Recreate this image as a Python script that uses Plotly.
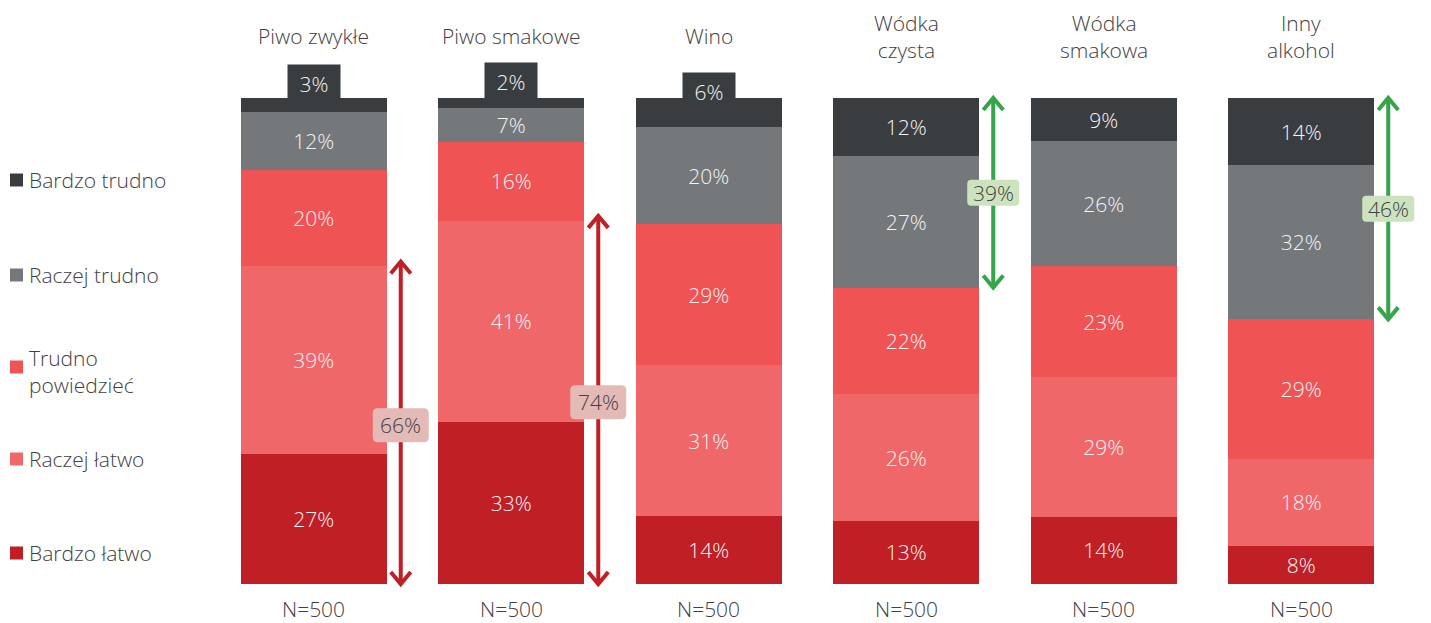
import plotly.graph_objects as go

# ---- data -------------------------------------------------------------
categories = ["Piwo zwykłe", "Piwo smakowe", "Wino", "Wódka<br>czysta", "Wódka<br>smakowa", "Inny<br>alkohol"]
sample_labels = ["N=500", "N=500", "N=500", "N=500", "N=500", "N=500"]

series_names = ["Bardzo łatwo", "Raczej łatwo", "Trudno<br>powiedzieć", "Raczej trudno", "Bardzo trudno"]
bardzo_latwo = [27, 33, 14, 13, 14, 8]
raczej_latwo = [39, 41, 31, 26, 29, 18]
trudno_powiedziec = [20, 16, 29, 22, 23, 29]
raczej_trudno = [12, 7, 20, 27, 26, 32]
bardzo_trudno = [3, 2, 6, 12, 9, 14]

# bars that get a bracket summing the two "łatwo" or the two "trudno" answers
easy_brackets = [0, 1]
hard_brackets = [3, 5]

# ---- style ------------------------------------------------------------
W, H = 1431, 623
FONT = "Open Sans"
TXT = "#3f4044"
colors = ["#c01f26", "#f0676a", "#ef5354", "#75787b", "#3a3d40"]
RED, GREEN = "#c01f26", "#35a44a"
PINK_BOX, GREEN_BOX = "#e4bab6", "#cde3be"

series = [bardzo_latwo, raczej_latwo, trudno_powiedziec, raczej_trudno, bardzo_trudno]
n = len(categories)
x = list(range(n))

# axis ranges chosen so one category step is ~197.5 px and 100% is ~486 px
X_RANGE = [-1.5886, 5.657]
Y_RANGE = [-8.02, 120.16]
px_per_x = W / (X_RANGE[1] - X_RANGE[0])
px_per_y = H / (Y_RANGE[1] - Y_RANGE[0])
BAR_W = 146 / px_per_x
ARROW_DX = 87 / px_per_x


def py(p):
    return 1 - p / H


def px(p):
    return p / W


fig = go.Figure()

totals = [sum(s[i] for s in series) for i in x]
norm = [[s[i] * 100.0 / totals[i] for i in x] for s in series]

for k, (name, vals) in enumerate(zip(series_names, series)):
    texts = [f"{v}%" if v >= 7 else "" for v in vals]
    fig.add_trace(go.Bar(
        x=x, y=vals, name=name, width=BAR_W,
        marker=dict(color=colors[k], line=dict(width=0)),
        text=texts, textposition="inside", insidetextanchor="middle",
        textangle=0, constraintext="none",
        textfont=dict(family=FONT, size=21, color="#f4f4f4", weight=300),
        showlegend=False, hoverinfo="skip",
    ))

annotations = []
shapes = []

# small segments: label boxed above the segment in its own colour
for k, vals in enumerate(series):
    for i in x:
        if vals[i] < 7:
            base = sum(norm[j][i] for j in range(k))
            mid = base + norm[k][i] / 2
            annotations.append(dict(
                x=i, y=mid, xref="x", yref="y", text=f"{vals[i]}%",
                showarrow=False, yshift=21, width=50, height=36,
                bgcolor=colors[k],
                font=dict(family=FONT, size=21, color="#f4f4f4", weight=300),
            ))

# category titles and sample sizes
for i in x:
    annotations.append(dict(
        x=i, y=py(36), xref="x", yref="paper", text=categories[i],
        showarrow=False, yanchor="middle",
        font=dict(family=FONT, size=21, color=TXT, weight=300),
    ))
    annotations.append(dict(
        x=i, y=py(609), xref="x", yref="paper", text=sample_labels[i],
        showarrow=False, yanchor="middle",
        font=dict(family=FONT, size=21, color=TXT, weight=300),
    ))


def double_arrow(xc, y0, y1, color):
    shapes.append(dict(type="line", xref="x", yref="y", x0=xc, x1=xc, y0=y0, y1=y1,
                       line=dict(color=color, width=4)))
    dx = 10 / px_per_x
    dy = 12 / px_per_y
    for tip, d in ((y1, -dy), (y0, dy)):
        shapes.append(dict(
            type="path", xref="x", yref="y",
            path=f"M {xc - dx} {tip + d} L {xc} {tip} L {xc + dx} {tip + d}",
            line=dict(color=color, width=4),
        ))


def rounded_box(xc, yc, w_px, h_px, color, r_px=5):
    hw, hh = w_px / 2 / px_per_x, h_px / 2 / px_per_y
    rx, ry = r_px / px_per_x, r_px / px_per_y
    x0, x1, y0, y1 = xc - hw, xc + hw, yc - hh, yc + hh
    path = (f"M {x0 + rx} {y0} L {x1 - rx} {y0} Q {x1} {y0} {x1} {y0 + ry} "
            f"L {x1} {y1 - ry} Q {x1} {y1} {x1 - rx} {y1} "
            f"L {x0 + rx} {y1} Q {x0} {y1} {x0} {y1 - ry} "
            f"L {x0} {y0 + ry} Q {x0} {y0} {x0 + rx} {y0} Z")
    shapes.append(dict(type="path", xref="x", yref="y", path=path,
                       fillcolor=color, line=dict(width=0)))


for i in easy_brackets:
    total = bardzo_latwo[i] + raczej_latwo[i]
    top = norm[0][i] + norm[1][i]
    xc = i + ARROW_DX
    double_arrow(xc, 0, top + 1, RED)
    rounded_box(xc, top / 2, 56, 34, PINK_BOX)
    annotations.append(dict(
        x=xc, y=top / 2, xref="x", yref="y", text=f"{total}%", showarrow=False,
        font=dict(family=FONT, size=21, color=TXT, weight=300),
    ))

for i in hard_brackets:
    total = raczej_trudno[i] + bardzo_trudno[i]
    low = norm[0][i] + norm[1][i] + norm[2][i]
    xc = i + ARROW_DX
    double_arrow(xc, low, 100, GREEN)
    rounded_box(xc, (low + 100) / 2, 52, 26, GREEN_BOX, r_px=4)
    annotations.append(dict(
        x=xc, y=(low + 100) / 2, xref="x", yref="y", text=f"{total}%", showarrow=False,
        font=dict(family=FONT, size=21, color=TXT, weight=300),
    ))

# legend on the left, top to bottom from "Bardzo trudno"
legend_rows = [(4, 180, 180), (3, 275, 275), (2, 367, 371), (1, 459, 459), (0, 553, 553)]
for k, marker_y, text_y in legend_rows:
    shapes.append(dict(
        type="rect", xref="paper", yref="paper",
        x0=px(10), x1=px(23), y0=py(marker_y + 6.5), y1=py(marker_y - 6.5),
        fillcolor=colors[k], line=dict(width=0),
    ))
    annotations.append(dict(
        x=px(27), y=py(text_y), xref="paper", yref="paper",
        text=series_names[k], showarrow=False, xanchor="left", yanchor="middle",
        align="left",
        font=dict(family=FONT, size=21, color=TXT, weight=300),
    ))

fig.update_layout(
    barmode="stack", barnorm="percent",
    width=W, height=H,
    margin=dict(l=0, r=0, t=0, b=0),
    paper_bgcolor="white", plot_bgcolor="white",
    xaxis=dict(range=X_RANGE, visible=False, fixedrange=True),
    yaxis=dict(range=Y_RANGE, visible=False, fixedrange=True),
    annotations=annotations, shapes=shapes,
    showlegend=False,
)

fig.write_html("out.html", config={"displayModeBar": False})
